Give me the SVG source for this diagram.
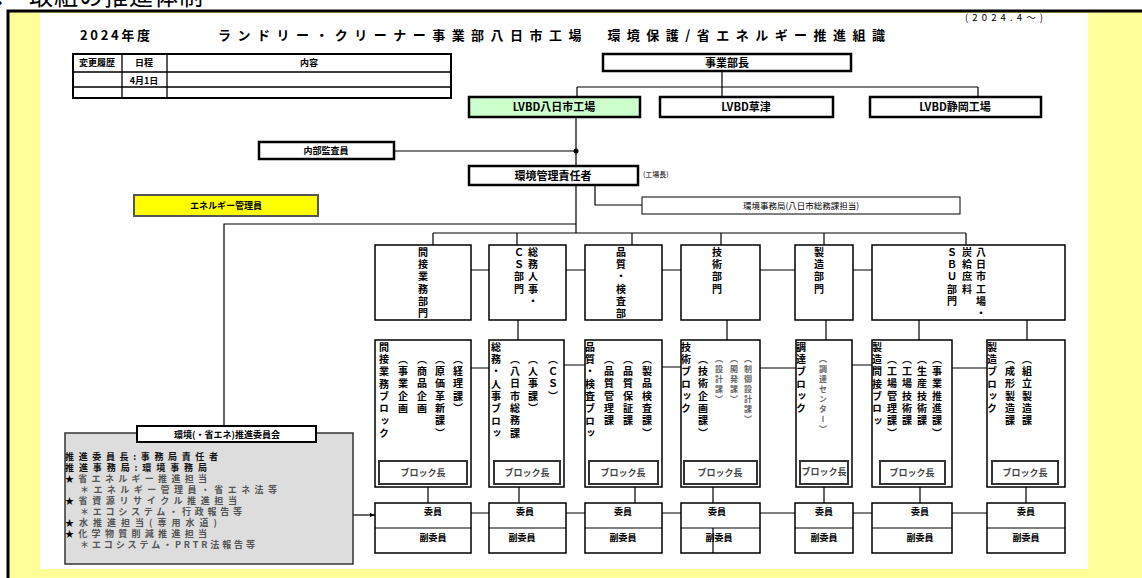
<svg xmlns="http://www.w3.org/2000/svg" width="1142" height="578" viewBox="0 0 1142 578">
<style>
text{font-family:"Noto Sans CJK JP","Noto Sans",sans-serif;fill:#000}
.bx{fill:#fff;stroke:#000;stroke-width:1.5}
.bx2{fill:#fff;stroke:#000;stroke-width:2.5}
.ln{fill:none;stroke:#000;stroke-width:1.2}
.h{font-size:11px;font-weight:700;text-anchor:middle}
.v{font-size:10px;font-weight:700;writing-mode:vertical-rl;text-orientation:upright;letter-spacing:2.3px}
.vg{font-size:8px;font-weight:700;writing-mode:vertical-rl;text-orientation:upright;letter-spacing:2px;fill:#666}
.s{font-size:9px;font-weight:700;text-anchor:middle}
.blk{fill:#fff;stroke:#333;stroke-width:2}
.bl{font-size:9px;text-anchor:middle;fill:#444;font-weight:700}
.c{font-size:9px;font-weight:700;fill:#555}
</style>
<defs>
<marker id="ar" markerWidth="6" markerHeight="6" refX="5" refY="3" orient="auto" markerUnits="userSpaceOnUse"><path d="M0 1 L5 3 L0 5 Z" fill="#000"/></marker>
</defs>
<rect x="0" y="0" width="1142" height="578" fill="#fff"/>
<rect x="9" y="11" width="1133" height="567" fill="#FFFF99"/>
<rect x="40" y="13" width="1048" height="556" fill="#fff"/>
<path d="M8 578 V11 H1142" stroke="#000" stroke-width="3" fill="none"/>
<text x="-6" y="5" font-size="24">．</text>
<text x="29" y="5" font-size="24" textLength="174" lengthAdjust="spacing">取組の推進体制</text>

<g id="title">
<text x="80" y="40" font-size="13" font-weight="700" textLength="70" lengthAdjust="spacing">2024年度</text>
<text x="218" y="40" font-size="13" font-weight="700" textLength="667" lengthAdjust="spacing">ランドリー・クリーナー事業部八日市工場　環境保護/省エネルギー推進組識</text>
<text x="965" y="21" font-size="9.5" textLength="78" lengthAdjust="spacing">(2024.4〜)</text>
</g>

<g id="history-table">
<rect x="73" y="54" width="378" height="44" fill="#fff" stroke="#000" stroke-width="2"/>
<path d="M73 72 H451 M73 87 H451 M122 54 V98 M167 54 V98" stroke="#000" stroke-width="1.3" fill="none"/>
<text x="97" y="66" class="s" font-size="8">変更履歴</text>
<text x="144" y="66" class="s" font-size="8">日程</text>
<text x="309" y="66" class="s" font-size="8">内容</text>
<text x="144" y="84" class="s" font-size="8">4月1日</text>
</g>

<g id="connectors">
<path class="ln" d="M722 71 V97 M577 87 H978 M577 87 V97 M978 87 V97"/>
<path class="ln" d="M576 117 V233 M394 151 H576 M595 185 V205 H642 M576 224 H224 V426"/>
<circle cx="576" cy="151" r="2.5" fill="#000"/>
<path class="ln" d="M433 233 H966 M433 233 V245 M517 233 V245 M632 233 V245 M721 233 V245 M824 233 V245 M966 233 V245"/>
<path class="ln" d="M471 270 H489 M566 270 H585 M662 270 H681 M760 270 H795 M853 270 H872"/>
<path class="ln" d="M518 320 V340 M727 320 V340 M826 320 V340 M919 320 V340 M1027 320 V340"/>
<path class="ln" d="M471 368 H489 M564 365 H585 M662 367 H681 M760 368 H796 M852 365 H872 M952 368 H987"/>
<path class="ln" d="M428 487 V503 M519 487 V503 M635 487 V503 M713 487 V503 M824 487 V503 M920 487 V503 M1026 487 V503"/>
<path class="ln" d="M471 513 H489 M566 513 H585 M662 513 H681 M760 513 H795 M853 513 H872 M952 513 H987"/>
<path class="ln" d="M353 515 H375" marker-end="url(#ar)"/>
</g>

<g id="n-jigyobucho"><rect x="603" y="54" width="248" height="17" class="bx2"/><text x="727" y="67" class="h">事業部長</text></g>
<g id="n-yokaichi"><rect x="469" y="97" width="171" height="20" fill="#CCFFCC" stroke="#000" stroke-width="2.5"/><text x="554" y="111" class="h">LVBD八日市工場</text></g>
<g id="n-kusatsu"><rect x="660" y="97" width="173" height="20" class="bx2"/><text x="746" y="111" class="h">LVBD草津</text></g>
<g id="n-shizuoka"><rect x="870" y="97" width="171" height="20" class="bx2"/><text x="955" y="111" class="h">LVBD静岡工場</text></g>

<g id="n-naibu"><rect x="259" y="142" width="135" height="17" class="bx2"/><text x="326" y="154" class="s" font-size="8.5">内部監査員</text></g>
<g id="n-kanri"><rect x="469" y="166" width="169" height="19" class="bx2"/><text x="553" y="180" class="h" font-size="12">環境管理責任者</text><text x="643" y="177" font-size="7">(工場長)</text></g>
<g id="n-jimukyoku"><rect x="642" y="197" width="318" height="17" fill="#fff" stroke="#000" stroke-width="1"/><text x="801" y="209" font-size="8.5" text-anchor="middle">環境事務局(八日市総務課担当)</text></g>
<g id="n-energy"><rect x="134" y="195" width="184" height="21" fill="#FFFF00" stroke="#555" stroke-width="2"/><text x="226" y="209" class="s" font-size="8.5">エネルギー管理員</text></g>

<g id="d1"><rect x="375" y="245" width="96" height="75" class="bx"/><text x="423" y="247" class="v">間接業務部門</text></g>
<g id="d2"><rect x="489" y="245" width="77" height="75" class="bx"/><text x="519" y="247" class="v">ＣＳ部門</text><text x="533" y="247" class="v">総務人事・</text></g>
<g id="d3"><rect x="585" y="245" width="77" height="75" class="bx"/><text x="621" y="247" class="v">品質・検査部</text></g>
<g id="d4"><rect x="681" y="245" width="79" height="75" class="bx"/><text x="717" y="247" class="v">技術部門</text></g>
<g id="d5"><rect x="795" y="245" width="58" height="75" class="bx"/><text x="819" y="247" class="v">製造部門</text></g>
<g id="d6"><rect x="872" y="245" width="193" height="75" class="bx"/><text x="952" y="247" class="v">ＳＢＵ部門</text><text x="967" y="247" class="v">炭給庶料</text><text x="981" y="247" class="v">八日市工場・</text></g>

<g id="b1"><rect x="375" y="340" width="96" height="147" class="bx"/>
<text x="384" y="342" class="v">間接業務ブロック</text><text x="403" y="354" class="v">（事業企画</text><text x="422" y="354" class="v">（商品企画</text><text x="440" y="354" class="v">（原価革新課）</text><text x="458" y="354" class="v">（経理課）</text>
<rect x="379" y="461" width="88" height="23" class="blk"/><text x="423" y="476" class="bl">ブロック長</text></g>
<g id="b2"><rect x="489" y="340" width="75" height="147" class="bx"/>
<text x="496" y="342" class="v">総務・人事ブロッ</text><text x="515" y="354" class="v">（八日市総務課</text><text x="533" y="354" class="v">（人事課）</text><text x="553" y="354" class="v">（ＣＳ）</text>
<rect x="494" y="461" width="66" height="23" class="blk"/><text x="527" y="476" class="bl">ブロック長</text></g>
<g id="b3"><rect x="585" y="340" width="77" height="147" class="bx"/>
<text x="590" y="342" class="v">品質・検査ブロッ</text><text x="609" y="354" class="v">（品質管理課</text><text x="628" y="354" class="v">（品質保証課</text><text x="647" y="354" class="v">（製品検査課）</text>
<rect x="589" y="461" width="69" height="23" class="blk"/><text x="623" y="476" class="bl">ブロック長</text></g>
<g id="b4"><rect x="681" y="340" width="79" height="147" class="bx"/>
<text x="686" y="342" class="v">技術ブロック</text><text x="703" y="354" class="v">（技術企画課）</text><text x="719" y="355" class="vg">（設計課）</text><text x="734" y="355" class="vg">（開発課）</text><text x="748" y="355" class="vg">（制御設計課）</text>
<rect x="684" y="461" width="73" height="23" class="blk"/><text x="720" y="476" class="bl">ブロック長</text></g>
<g id="b5"><rect x="796" y="340" width="56" height="147" class="bx"/>
<text x="801" y="342" class="v">調達ブロック</text><text x="823" y="355" class="vg">（調達センター）</text>
<rect x="800" y="461" width="48" height="23" class="blk"/><text x="824" y="475" class="bl" font-size="7">ブロック長</text></g>
<g id="b6"><rect x="872" y="340" width="80" height="147" class="bx"/>
<text x="877" y="342" class="v">製造間接ブロッ</text><text x="892" y="354" class="v">（工場管理課）</text><text x="907" y="354" class="v">（工場技術課</text><text x="922" y="354" class="v">（生産技術課</text><text x="937" y="354" class="v">（事業推進課）</text>
<rect x="880" y="461" width="65" height="23" class="blk"/><text x="912" y="476" class="bl">ブロック長</text></g>
<g id="b7"><rect x="987" y="340" width="78" height="147" class="bx"/>
<text x="992" y="342" class="v">製造ブロック</text><text x="1010" y="354" class="v">（成形製造課</text><text x="1027" y="354" class="v">（組立製造課</text>
<rect x="992" y="461" width="66" height="23" class="blk"/><text x="1025" y="476" class="bl">ブロック長</text></g>

<g id="m1"><rect x="375" y="503" width="96" height="50" class="bx"/><path d="M375 528 H471" stroke="#000" stroke-width="1.2"/><text x="433" y="515" class="s">委員</text><text x="433" y="541" class="s">副委員</text></g>
<g id="m2"><rect x="489" y="503" width="77" height="50" class="bx"/><path d="M489 528 H566" stroke="#000" stroke-width="1.2"/><text x="525" y="515" class="s">委員</text><text x="522" y="541" class="s">副委員</text></g>
<g id="m3"><rect x="585" y="503" width="77" height="50" class="bx"/><path d="M585 528 H662" stroke="#000" stroke-width="1.2"/><text x="623" y="515" class="s">委員</text><text x="623" y="541" class="s">副委員</text></g>
<g id="m4"><rect x="681" y="503" width="79" height="50" class="bx"/><path d="M681 528 H760 M713 528 V553" stroke="#000" stroke-width="1.2"/><text x="717" y="515" class="s">委員</text><text x="719" y="541" class="s">副委員</text></g>
<g id="m5"><rect x="795" y="503" width="58" height="50" class="bx"/><path d="M795 528 H853" stroke="#000" stroke-width="1.2"/><text x="824" y="515" class="s">委員</text><text x="824" y="541" class="s">副委員</text></g>
<g id="m6"><rect x="872" y="503" width="80" height="50" class="bx"/><path d="M872 528 H952" stroke="#000" stroke-width="1.2"/><text x="920" y="515" class="s">委員</text><text x="920" y="541" class="s">副委員</text></g>
<g id="m7"><rect x="987" y="503" width="78" height="50" class="bx"/><path d="M987 528 H1065" stroke="#000" stroke-width="1.2"/><text x="1026" y="515" class="s">委員</text><text x="1026" y="541" class="s">副委員</text></g>

<g id="committee">
<rect x="65" y="433" width="288" height="131" fill="#DDDDDD" stroke="#333" stroke-width="1.5"/>
<rect x="137" y="426" width="179" height="16" fill="#fff" stroke="#000" stroke-width="2"/>
<text x="227" y="438" class="s" font-size="9.5">環境(・省エネ)推進委員会</text>
<text x="65" y="460" class="c" style="fill:#111" textLength="153" lengthAdjust="spacing">推進委員長:事務局責任者</text>
<text x="65" y="471" class="c" style="fill:#111" textLength="142" lengthAdjust="spacing">推進事務局:環境事務局</text>
<text x="65" y="482" class="c" textLength="142" lengthAdjust="spacing"><tspan style="fill:#000">★</tspan>省エネルギー推進担当</text>
<text x="80" y="493" class="c" textLength="197" lengthAdjust="spacing">＊エネルギー管理員・省エネ法等</text>
<text x="65" y="504" class="c" textLength="172" lengthAdjust="spacing"><tspan style="fill:#000">★</tspan>省資源リサイクル推進担当</text>
<text x="80" y="515" class="c" textLength="162" lengthAdjust="spacing">＊エコシステム・行政報告等</text>
<text x="65" y="526" class="c" textLength="152" lengthAdjust="spacing"><tspan style="fill:#000">★</tspan>水推進担当(専用水道)</text>
<text x="65" y="537" class="c" textLength="142" lengthAdjust="spacing"><tspan style="fill:#000">★</tspan>化学物質削減推進担当</text>
<text x="80" y="548" class="c" textLength="175" lengthAdjust="spacing">＊エコシステム・PRTR法報告等</text>
</g>
</svg>
